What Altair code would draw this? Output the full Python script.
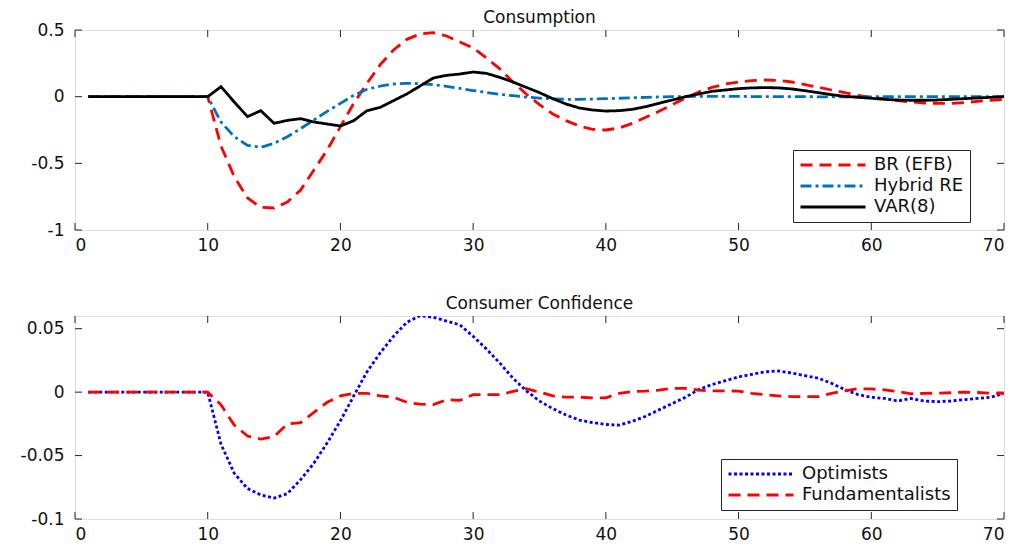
import altair as alt
import pandas as pd

# ---------------- data ----------------
periods = list(range(1, 71))

br_efb = [0, 0, 0, 0, 0, 0, 0, 0, 0, 0,
          -0.37, -0.60, -0.76, -0.83, -0.835, -0.79, -0.70, -0.55, -0.40, -0.225,
          -0.05, 0.10, 0.24, 0.35, 0.43, 0.47, 0.48, 0.455, 0.41, 0.365,
          0.29, 0.21, 0.11, 0.02, -0.06, -0.13, -0.18, -0.22, -0.245, -0.25,
          -0.235, -0.20, -0.155, -0.11, -0.06, -0.01, 0.035, 0.07, 0.095, 0.11,
          0.12, 0.125, 0.122, 0.11, 0.09, 0.07, 0.05, 0.03, 0.01, -0.005,
          -0.015, -0.03, -0.04, -0.048, -0.05, -0.05, -0.045, -0.035, -0.028, -0.02]

hybrid_re = [0, 0, 0, 0, 0, 0, 0, 0, 0, 0,
             -0.19, -0.30, -0.365, -0.38, -0.35, -0.30, -0.24, -0.175, -0.11, -0.05,
             0.01, 0.055, 0.08, 0.095, 0.10, 0.098, 0.09, 0.078, 0.062, 0.046,
             0.032, 0.018, 0.007, -0.003, -0.011, -0.017, -0.02, -0.02, -0.018, -0.015,
             -0.012, -0.008, -0.005, -0.002, 0.0, 0.001, 0.002, 0.002, 0.002, 0.002,
             0.001, 0.001, 0.0, 0.0, 0.0, -0.001, -0.001, -0.001, -0.001, -0.001,
             0, 0, 0, 0, 0, 0, 0, 0, 0, 0]

var8 = [0, 0, 0, 0, 0, 0, 0, 0, 0, 0,
        0.075, -0.04, -0.15, -0.105, -0.20, -0.178, -0.165, -0.19, -0.205, -0.22,
        -0.18, -0.105, -0.08, -0.03, 0.02, 0.08, 0.14, 0.16, 0.17, 0.185,
        0.175, 0.145, 0.11, 0.07, 0.03, -0.015, -0.055, -0.085, -0.10, -0.108,
        -0.105, -0.095, -0.075, -0.05, -0.025, 0.0, 0.02, 0.04, 0.05, 0.06,
        0.066, 0.068, 0.066, 0.058, 0.045, 0.03, 0.015, 0.003, -0.005, -0.012,
        -0.02, -0.025, -0.027, -0.027, -0.025, -0.02, -0.015, -0.01, -0.005, 0.0]

optimists = [0, 0, 0, 0, 0, 0, 0, 0, 0, 0,
             -0.041, -0.064, -0.076, -0.081, -0.0835, -0.080, -0.069, -0.056, -0.040, -0.0226,
             -0.003, 0.016, 0.031, 0.044, 0.055, 0.0603, 0.059, 0.056, 0.053, 0.044,
             0.034, 0.023, 0.011, 0.001, -0.007, -0.013, -0.018, -0.022, -0.024, -0.0255,
             -0.026, -0.023, -0.019, -0.014, -0.009, -0.004, 0.002, 0.006, 0.009, 0.012,
             0.014, 0.016, 0.0167, 0.015, 0.013, 0.011, 0.007, 0.002, -0.002, -0.004,
             -0.005, -0.007, -0.005, -0.007, -0.0075, -0.007, -0.006, -0.005, -0.004, -0.001]

fundamentalists = [0, 0, 0, 0, 0, 0, 0, 0, 0, 0,
                   -0.010, -0.026, -0.0346, -0.037, -0.035, -0.025, -0.024, -0.016, -0.008, -0.003,
                   -0.001, -0.001, -0.003, -0.004, -0.008, -0.0095, -0.0099, -0.006, -0.0065, -0.002,
                   -0.002, -0.002, 0.0005, 0.0027, 0.0, -0.003, -0.004, -0.004, -0.0045, -0.0045,
                   -0.001, 0.0005, 0.0008, 0.0015, 0.003, 0.003, 0.0015, 0.001, 0.001, 0.0008,
                   -0.001, -0.002, -0.003, -0.0035, -0.0035, -0.0035, -0.001, 0.001, 0.0027, 0.0025,
                   0.0018, 0.0005, -0.0013, -0.001, -0.0008, -0.0005, 0.0, -0.0003, -0.0008, -0.001]

panel_titles = ["Consumption", "Consumer Confidence"]
top_names = ["BR (EFB)", "Hybrid RE", "VAR(8)"]
bot_names = ["Optimists", "Fundamentalists"]
x_ticks = [0, 10, 20, 30, 40, 50, 60, 70]
y_ticks_top = [-1, -0.5, 0, 0.5]
y_ticks_bot = [-0.1, -0.05, 0, 0.05]

# ---------------- tables ----------------
def long_table(names, series):
    rows = []
    for name, vals in zip(names, series):
        for t, v in zip(periods, vals):
            rows.append({"t": t, "value": v, "series": name})
    return pd.DataFrame(rows)

df_top = long_table(top_names, [br_efb, hybrid_re, var8])
df_bot = long_table(bot_names, [optimists, fundamentalists])

# ---------------- style ----------------
FONT = "DejaVu Sans"
W = 929
H1 = 200
H2 = 203
TICK = 7
AXC = "#262626"
TXT = "#111111"

xscale = alt.Scale(domain=[0, 70], nice=False, zero=False)


def x_axis():
    return alt.Axis(values=x_ticks, ticks=False, tickSize=0, domain=False, grid=False,
                    labelPadding=7, labelFontSize=17, labelFont=FONT, labelColor=TXT,
                    labelExpr="'' + datum.value", title=None)


def y_axis(vals):
    return alt.Axis(values=vals, ticks=False, tickSize=0, domain=False, grid=False,
                    labelPadding=11, labelFontSize=17, labelFont=FONT, labelColor=TXT,
                    labelExpr="'' + datum.value", title=None,
                    minExtent=66, maxExtent=66)


def legend(lx, ly):
    return alt.Legend(title=None, orient="none", legendX=lx, legendY=ly,
                      symbolType="stroke", symbolSize=4225, symbolStrokeWidth=3,
                      symbolOffset=0, clipHeight=18, rowPadding=3,
                      labelFont=FONT, labelFontSize=18, labelColor=TXT, labelOffset=7,
                      labelLimit=400,
                      padding=6, fillColor="white", strokeColor=AXC)


def panel(df, names, colors, dashes, ydomain, yvals, height, title, lx, ly):
    yscale = alt.Scale(domain=ydomain, nice=False, zero=False)
    leg = legend(lx, ly)
    lines = alt.Chart(df).mark_line(strokeWidth=2.8, strokeCap="butt", clip=True).encode(
        x=alt.X("t:Q", scale=xscale, axis=x_axis()),
        y=alt.Y("value:Q", scale=yscale, axis=y_axis(yvals)),
        color=alt.Color("series:N", scale=alt.Scale(domain=names, range=colors),
                        sort=names, legend=leg),
        strokeDash=alt.StrokeDash("series:N", scale=alt.Scale(domain=names, range=dashes),
                                  sort=names, legend=leg),
    )
    xt = pd.DataFrame({"t": x_ticks})
    yt = pd.DataFrame({"value": yvals})
    tx_bottom = alt.Chart(xt).mark_rule(color=AXC, strokeWidth=1).encode(
        x=alt.X("t:Q", scale=xscale), y=alt.value(height), y2=alt.value(height - TICK))
    tx_top = alt.Chart(xt).mark_rule(color=AXC, strokeWidth=1).encode(
        x=alt.X("t:Q", scale=xscale), y=alt.value(0), y2=alt.value(TICK))
    ty_left = alt.Chart(yt).mark_rule(color=AXC, strokeWidth=1).encode(
        y=alt.Y("value:Q", scale=yscale), x=alt.value(0), x2=alt.value(TICK))
    ty_right = alt.Chart(yt).mark_rule(color=AXC, strokeWidth=1).encode(
        y=alt.Y("value:Q", scale=yscale), x=alt.value(W), x2=alt.value(W - TICK))
    ttl = alt.Chart(pd.DataFrame({"label": [title]})).mark_text(
        font=FONT, fontSize=17, baseline="alphabetic", align="center", color=TXT
    ).encode(x=alt.value(W / 2), y=alt.value(-7), text="label:N")
    return alt.layer(tx_bottom, tx_top, ty_left, ty_right, lines, ttl).properties(
        width=W, height=height)


top = panel(df_top, top_names, ["#FF0000", "#0072BD", "#000000"],
            [[12, 7], [11, 4, 3, 4], [1, 0]], [-1, 0.5], y_ticks_top, H1,
            panel_titles[0], 718, 120)
bot = panel(df_bot, bot_names, ["#0000FF", "#FF0000"],
            [[3, 2.5], [12, 7]], [-0.1, 0.06], y_ticks_bot, H2,
            panel_titles[1], 646, 143)

chart = alt.vconcat(top, bot, spacing=40).resolve_scale(
    color="independent", strokeDash="independent"
).resolve_legend(
    color="independent", strokeDash="independent"
).properties(
    padding={"left": 0, "top": 0, "right": 0, "bottom": 0}
).configure_view(stroke=AXC, strokeWidth=1).configure(background="white")

chart.save("out.html", embed_options={"renderer": "svg", "actions": False})
